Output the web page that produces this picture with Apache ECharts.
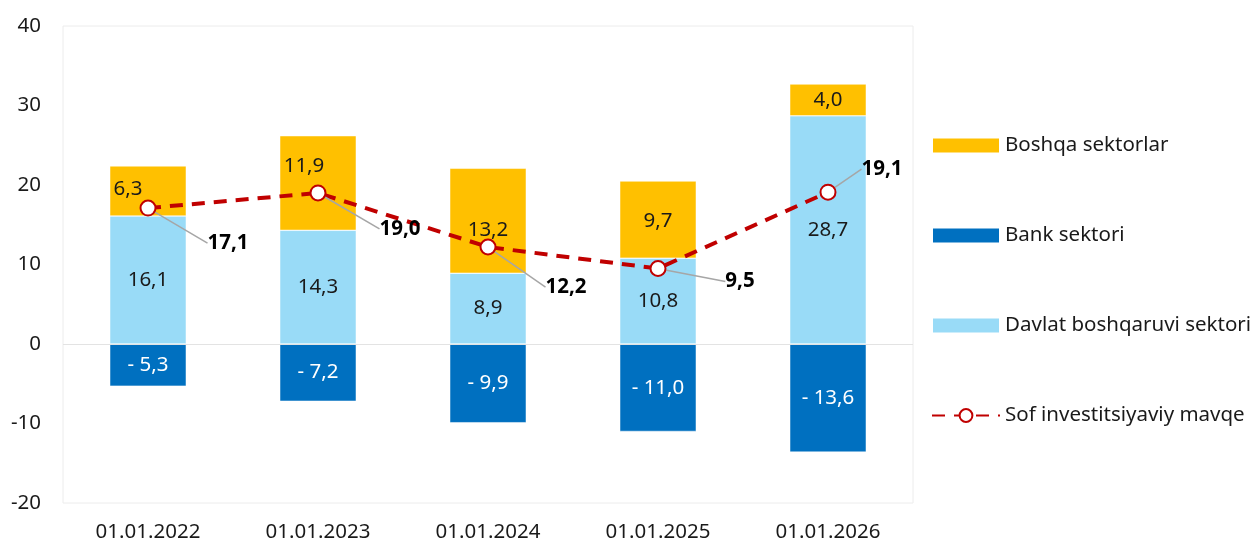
<!DOCTYPE html>
<html>
<head>
<meta charset="utf-8">
<script src="https://cdn.jsdelivr.net/npm/echarts@6/dist/echarts.min.js"></script>
<style>
html, body { margin: 0; padding: 0; background: #fff; }
#chart { width: 1258px; height: 543px; }
</style>
</head>
<body>
<div id="chart"></div>
<script>
var categories = ['01.01.2022', '01.01.2023', '01.01.2024', '01.01.2025', '01.01.2026'];
var davlat = [16.1, 14.3, 8.9, 10.8, 28.7];
var bank = [-5.3, -7.2, -9.9, -11.0, -13.6];
var boshqa = [6.3, 11.9, 13.2, 9.7, 4.0];
var sof = [17.1, 19.0, 12.2, 9.5, 19.1];

// label nudges (pixels), kept apart from the data
var boshqaShift = [[-20, -2], [-14, -17], [0, 9], [0, 2], [0, 0]];
var sofShift = [[80, 35], [82, 36], [78, 40], [82, 13], [54, -23]];

var FONT = 'Noto Sans';
var FS = 20.5;

function fmt(v) {
	return v.toFixed(1).replace('.', ',');
}

var chart = echarts.init(document.getElementById('chart'));

var option = {
	animation: false,
	textStyle: { fontFamily: FONT },
	grid: {
		left: 63,
		right: 345,
		top: 26,
		bottom: 40,
		show: true,
		borderColor: '#ececec',
		borderWidth: 1
	},
	legend: {
		orient: 'vertical',
		left: 926,
		top: 130,
		itemWidth: 68,
		itemHeight: 16,
		itemGap: 69,
		textStyle: { fontSize: FS, color: '#1a1a1a', fontFamily: FONT },
		data: [
			{ name: 'Boshqa sektorlar', icon: 'rect' },
			{ name: 'Bank sektori', icon: 'rect' },
			{ name: 'Davlat boshqaruvi sektori', icon: 'rect' },
			{ name: 'Sof investitsiyaviy mavqe' }
		]
	},
	xAxis: {
		type: 'category',
		data: categories,
		axisLine: { show: false },
		axisTick: { show: false },
		axisLabel: { fontSize: FS, color: '#1a1a1a', margin: 19 }
	},
	yAxis: {
		type: 'value',
		min: -20,
		max: 40,
		interval: 10,
		splitLine: { show: false },
		axisLine: { show: false },
		axisTick: { show: false },
		axisLabel: { fontSize: FS, color: '#1a1a1a', margin: 22 }
	},
	series: [
		{
			name: 'Davlat boshqaruvi sektori',
			type: 'bar',
			stack: 'a',
			barWidth: '45%',
			itemStyle: { color: '#99dbf7', borderColor: '#ffffff', borderWidth: 0.5 },
			label: {
				show: true,
				position: 'inside',
				fontSize: FS,
				color: '#1a1a1a',
				formatter: function (p) { return fmt(p.value); }
			},
			markLine: {
				silent: true,
				symbol: 'none',
				label: { show: false },
				lineStyle: { color: '#e3e3e3', type: 'solid', width: 1 },
				data: [{ yAxis: 0 }]
			},
			data: davlat
		},
		{
			name: 'Bank sektori',
			type: 'bar',
			stack: 'a',
			itemStyle: { color: '#0070c0', borderColor: '#ffffff', borderWidth: 0.5 },
			label: {
				show: true,
				position: 'inside',
				fontSize: FS,
				color: '#ffffff',
				formatter: function (p) { return '- ' + fmt(Math.abs(p.value)); }
			},
			data: bank
		},
		{
			name: 'Boshqa sektorlar',
			type: 'bar',
			stack: 'a',
			itemStyle: { color: '#ffc000', borderColor: '#ffffff', borderWidth: 0.5 },
			label: {
				show: true,
				position: 'inside',
				fontSize: FS,
				color: '#1a1a1a',
				formatter: function (p) { return fmt(p.value); }
			},
			labelLayout: function (p) {
				var s = boshqaShift[p.dataIndex];
				return { dx: s[0], dy: s[1] };
			},
			data: boshqa
		},
		{
			name: 'Sof investitsiyaviy mavqe',
			type: 'line',
			z: 5,
			symbol: 'circle',
			symbolSize: 15,
			itemStyle: { color: '#ffffff', borderColor: '#c00000', borderWidth: 2 },
			lineStyle: { color: '#c00000', width: 4, type: [13, 9] },
			label: {
				show: true,
				position: 'inside',
				fontSize: FS,
				fontWeight: 'bold',
				color: '#000000',
				padding: [0, 6],
				formatter: function (p) { return fmt(p.value); }
			},
			labelLine: {
				show: true,
				lineStyle: { color: '#a6a6a6', width: 1.5 }
			},
			labelLayout: function (p) {
				var s = sofShift[p.dataIndex];
				return { dx: s[0], dy: s[1] };
			},
			data: sof
		}
	]
};

chart.setOption(option);
</script>
</body>
</html>
